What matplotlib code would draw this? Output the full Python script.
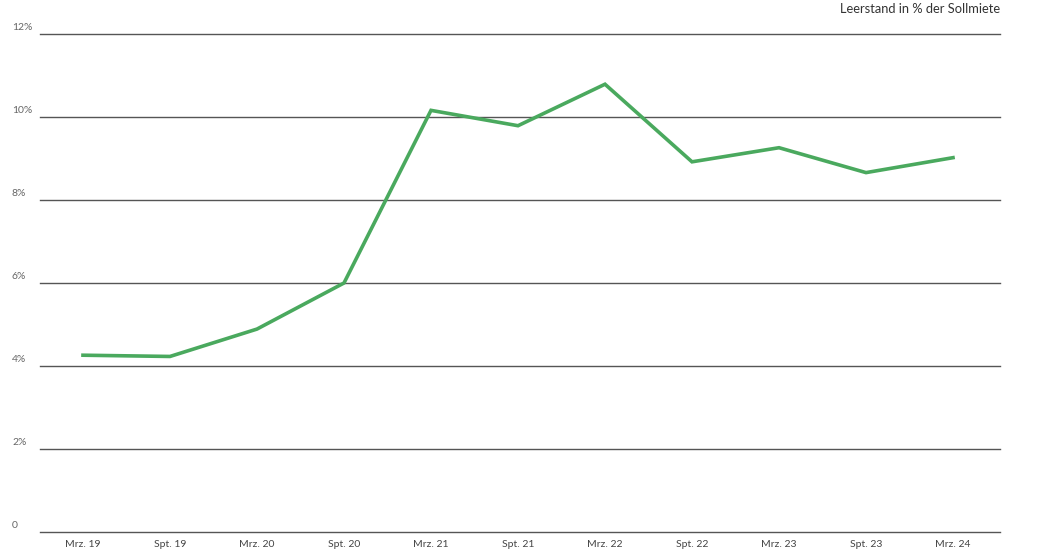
import matplotlib
matplotlib.use("Agg")
import matplotlib.pyplot as plt
import matplotlib.transforms as mtransforms

periods = ["Mrz. 19", "Spt. 19", "Mrz. 20", "Spt. 20", "Mrz. 21", "Spt. 21",
           "Mrz. 22", "Spt. 22", "Mrz. 23", "Spt. 23", "Mrz. 24"]
vacancy = [4.26, 4.23, 4.89, 6.0, 10.16, 9.79, 10.79, 8.92, 9.26, 8.66, 9.02]
y_ticks = [0, 2, 4, 6, 8, 10, 12]
y_labels = ["0", "2%", "4%", "6%", "8%", "10%", "12%"]

plt.rcParams['font.family'] = ['Lato', 'DejaVu Sans']


def main():
    fig = plt.figure(figsize=(10.38, 5.58), dpi=100)
    ax = fig.add_axes([40 / 1038, 1 - 532 / 558, 960 / 1038, 498 / 558])

    for t in y_ticks:
        ax.axhline(t, color='#555555', lw=1.0, zorder=1, clip_on=False)

    x = list(range(len(periods)))
    ax.plot(x, vacancy, color='#4aa95e', lw=2.6, solid_joinstyle='miter', zorder=3)

    ax.set_xlim(-0.494, 10.54)
    ax.set_ylim(0, 12)
    for s in ax.spines.values():
        s.set_visible(False)
    ax.set_yticks([])
    ax.set_xticks(x)
    ax.set_xticklabels(periods, fontsize=7.5, color='#444444')
    ax.tick_params(axis='x', length=0, pad=6)

    trans = mtransforms.blended_transform_factory(fig.transFigure, ax.transData)
    for t, lab in zip(y_ticks, y_labels):
        ax.text(12 / 1038, t + 0.04, lab, transform=trans, fontsize=7.5,
                color='#666666', ha='left', va='bottom')

    fig.text(1000 / 1038, 1 - 9 / 558, "Leerstand in % der Sollmiete",
             fontsize=9.3, color='#333333', ha='right', va='center')

    fig.savefig("out.png", dpi=100)


if __name__ == "__main__":
    main()
